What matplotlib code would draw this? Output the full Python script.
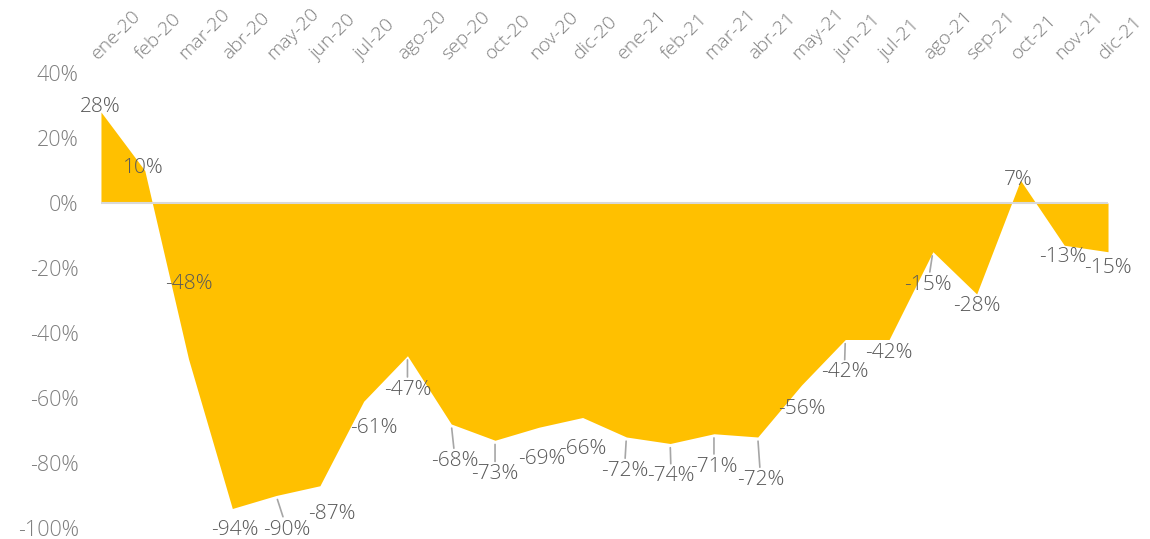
import matplotlib
matplotlib.use("Agg")
import matplotlib.pyplot as plt

months = ["ene-20", "feb-20", "mar-20", "abr-20", "may-20", "jun-20", "jul-20", "ago-20",
          "sep-20", "oct-20", "nov-20", "dic-20", "ene-21", "feb-21", "mar-21", "abr-21",
          "may-21", "jun-21", "jul-21", "ago-21", "sep-21", "oct-21", "nov-21", "dic-21"]
values = [28, 10, -48, -94, -90, -87, -61, -47, -68, -73, -69, -66,
          -72, -74, -71, -72, -56, -42, -42, -15, -28, 7, -13, -15]
yticks = [-100, -80, -60, -40, -20, 0, 20, 40]

# label placement (offset in pixels from the point) and which ones get a leader line
label_offsets = [(-1, 5), (-1, 2), (0, 75), (2, -21), (11, -34), (12, -28), (10, -27), (0, -34),
                 (4, -37), (0, -34), (3, -32), (0, -32), (-2, -34), (1, -33), (0, -33), (3, -43),
                 (0, -24), (-1, -33), (0, -14), (-5, -33), (0, -12), (-2, 0), (-1, -12), (0, -16)]
leaders = [4, 7, 8, 9, 12, 13, 14, 15, 17, 19]

plt.rcParams["font.family"] = ["Open Sans", "DejaVu Sans"]

fig = plt.figure(figsize=(11.5, 5.39), dpi=100)
ax = fig.add_axes([0.0878, 0.0204, 0.8757, 0.8442])

x = list(range(len(months)))
ax.fill_between(x, values, 0, color="#FFC000", linewidth=0, zorder=1)
ax.axhline(0, color="#d9d9d9", linewidth=1.5, zorder=2)

for i, v in enumerate(values):
    dx, dy = label_offsets[i]
    props = None
    if i in leaders:
        props = dict(arrowstyle="-", color="#a6a6a6", lw=1.2, shrinkA=0, shrinkB=3)
    ax.annotate(f"{v}%", xy=(i, v), xytext=(dx, dy), textcoords="offset pixels",
                ha="center", va="center", fontsize=15, color="#595959",
                fontweight="light", arrowprops=props, zorder=3)

ax.set_xlim(0, len(months) - 1)
ax.set_ylim(-100, 40)
ax.set_yticks(yticks)
ax.set_yticklabels([f"{t}%" for t in yticks])
ax.set_xticks(x)
ax.set_xticklabels(months)
ax.xaxis.tick_top()
ax.tick_params(axis="x", length=0, pad=7, labelsize=14, labelcolor="#7f7f7f")
ax.tick_params(axis="y", length=0, pad=16, labelsize=15.5, labelcolor="#7f7f7f")
plt.setp(ax.get_xticklabels(), rotation=45, ha="left", va="bottom", rotation_mode="anchor",
         fontweight="light")
plt.setp(ax.get_yticklabels(), fontweight="light")
for s in ax.spines.values():
    s.set_visible(False)

fig.savefig("out.png", dpi=100)
